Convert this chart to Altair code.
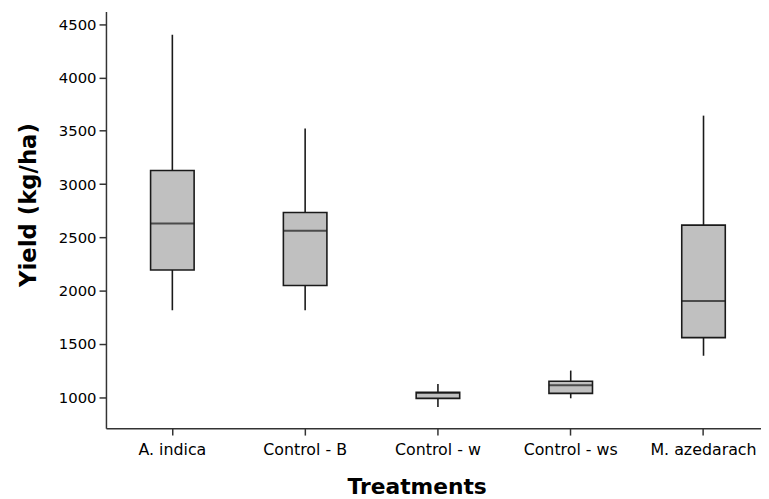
import altair as alt
import pandas as pd

treatments = ["A. indica", "Control - B", "Control - w", "Control - ws", "M. azedarach"]
lower = [1817, 1817, 910, 991, 1390]
q1 = [2194, 2049, 990, 1037, 1560]
median = [2630, 2562, 1040, 1114, 1903]
q3 = [3128, 2733, 1047, 1151, 2615]
upper = [4400, 3521, 1125, 1251, 3642]
y_ticks = [1000, 1500, 2000, 2500, 3000, 3500, 4000, 4500]

df = pd.DataFrame({"t": treatments, "lower": lower, "q1": q1, "median": median,
                   "q3": q3, "upper": upper})

x = alt.X("t:N", sort=treatments, title="Treatments",
          scale=alt.Scale(range=[0, 671], paddingInner=0, paddingOuter=0),
          axis=alt.Axis(labelAngle=0, labelFont="DejaVu Sans", labelFontSize=16,
                        labelColor="black", labelPadding=7, tickSize=7,
                        tickColor="#333333", tickWidth=1.5, domainColor="#333333",
                        domainWidth=1.5, titleFont="DejaVu Sans", titleFontSize=22,
                        titleFontWeight="bold", titleColor="black",
                        titleX=314, titleY=66, titleAlign="center",
                        titleBaseline="alphabetic"))
yscale = alt.Scale(domain=[711, 4618], nice=False, zero=False)
yaxis = alt.Axis(values=y_ticks, format="d", grid=False, labelFont="DejaVu Sans",
                 labelFontSize=15, labelColor="black", labelPadding=3, tickSize=7,
                 tickColor="#333333", tickWidth=1.5, domainColor="#333333",
                 domainWidth=1.5, titleFont="DejaVu Sans", titleFontSize=23,
                 titleFontWeight="bold", titleColor="black", titleAngle=-90,
                 titleX=-71, titleY=195, titleAlign="center",
                 titleBaseline="alphabetic")

base = alt.Chart(df).encode(x=x)
whisk = base.mark_rule(color="#1a1a1a", strokeWidth=1.6).encode(
    y=alt.Y("lower:Q", scale=yscale, axis=yaxis, title="Yield (kg/ha)"), y2="upper:Q")
box = base.mark_bar(size=44, color="#c0c0c0", stroke="#1a1a1a", strokeWidth=1.6).encode(
    y=alt.Y("q1:Q", scale=yscale), y2="q3:Q")
med = base.mark_tick(size=44, thickness=2, color="#1a1a1a").encode(
    y=alt.Y("median:Q", scale=yscale))

chart = (whisk + box + med).properties(
    width=662, height=421,
    autosize=alt.AutoSizeParams(type="none"),
    padding={"left": 99, "top": 1, "right": 0, "bottom": 69},
).configure_view(stroke=None)

chart.save("out.html", embed_options={"renderer": "svg", "actions": False})
